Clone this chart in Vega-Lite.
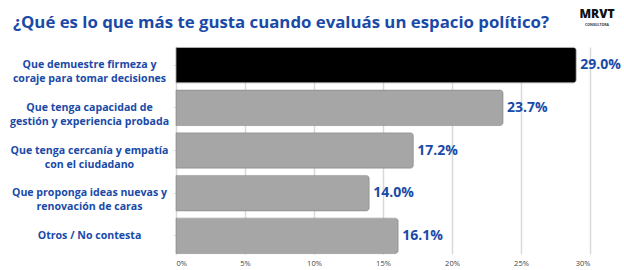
{
  "$schema": "https://vega.github.io/schema/vega-lite/v6.json",
  "autosize": {"type": "none"},
  "padding": {"left": 176, "top": 47, "right": 34, "bottom": 16},
  "width": 414,
  "height": 207,
  "background": "white",
  "title": {
    "text": "¿Qué es lo que más te gusta cuando evaluás un espacio político?",
    "anchor": "start",
    "frame": "group",
    "dx": -163,
    "dy": 39.5,
    "offset": 15,
    "font": "Open Sans",
    "fontSize": 16.8,
    "fontWeight": "bold",
    "color": "#1a4aa8"
  },
  "config": {"view": {"stroke": null}},
  "data": {
    "values": [
      {"category": "Que demuestre firmeza y|coraje para tomar decisiones", "value": 0.290},
      {"category": "Que tenga capacidad de|gestión y experiencia probada", "value": 0.237},
      {"category": "Que tenga cercanía y empatía|con el ciudadano", "value": 0.172},
      {"category": "Que proponga ideas nuevas y|renovación de caras", "value": 0.140},
      {"category": "Otros / No contesta", "value": 0.161}
    ]
  },
  "layer": [
    {
      "mark": {"type": "bar", "cornerRadiusEnd": 3, "stroke": "#8f8f8f", "strokeWidth": 0.6},
      "encoding": {
        "y": {
          "field": "category",
          "type": "nominal",
          "sort": null,
          "scale": {"paddingInner": 0.17, "paddingOuter": 0.01},
          "axis": {
            "title": null,
            "domain": false,
            "ticks": true,
            "tickSize": 3,
            "tickColor": "#dddddd",
            "labelPadding": 84,
            "labelAlign": "center",
            "labelBaseline": "middle",
            "labelExpr": "split(datum.label, '|')",
            "labelFont": "Open Sans",
            "labelFontSize": 10.6,
            "labelFontWeight": "bold",
            "labelColor": "#1a4aa8",
            "labelLineHeight": 14,
            "labelLimit": 0
          }
        },
        "x": {
          "field": "value",
          "type": "quantitative",
          "scale": {"domain": [0, 0.3], "nice": false},
          "axis": {
            "title": null,
            "format": ".0%",
            "values": [0, 0.05, 0.1, 0.15, 0.2, 0.25, 0.3],
            "domain": false,
            "ticks": false,
            "grid": true,
            "gridColor": "#d9d9d9",
            "gridWidth": 1.5,
            "labelFont": "Open Sans",
            "labelFontSize": 7.5,
            "labelColor": "#444444",
            "labelPadding": 5
          }
        },
        "color": {
          "condition": {"test": "datum.value >= 0.29", "value": "#000000"},
          "value": "#a6a6a6"
        }
      }
    },
    {
      "mark": {
        "type": "text",
        "align": "left",
        "baseline": "middle",
        "dx": 4,
        "font": "Open Sans",
        "fontSize": 14,
        "fontWeight": "bold",
        "color": "#1a4aa8"
      },
      "encoding": {
        "y": {"field": "category", "type": "nominal", "sort": null},
        "x": {"field": "value", "type": "quantitative"},
        "text": {"field": "value", "type": "quantitative", "format": ".1%"}
      }
    },
    {
      "data": {"values": [{"logo": "MRVT", "sub": "CONSULTORA"}]},
      "mark": {
        "type": "text",
        "align": "center",
        "baseline": "middle",
        "dx": 7,
        "dy": -137,
        "font": "Open Sans",
        "fontSize": 12,
        "fontWeight": 900,
        "color": "#111111"
      },
      "encoding": {
        "x": {"datum": 0.3, "type": "quantitative"},
        "text": {"field": "logo"}
      }
    },
    {
      "data": {"values": [{"logo": "MRVT", "sub": "CONSULTORA"}]},
      "mark": {
        "type": "text",
        "align": "center",
        "baseline": "middle",
        "dx": 7,
        "dy": -126,
        "font": "Open Sans",
        "fontSize": 3.5,
        "fontWeight": "bold",
        "color": "#333333"
      },
      "encoding": {
        "x": {"datum": 0.3, "type": "quantitative"},
        "text": {"field": "sub"}
      }
    }
  ]
}
